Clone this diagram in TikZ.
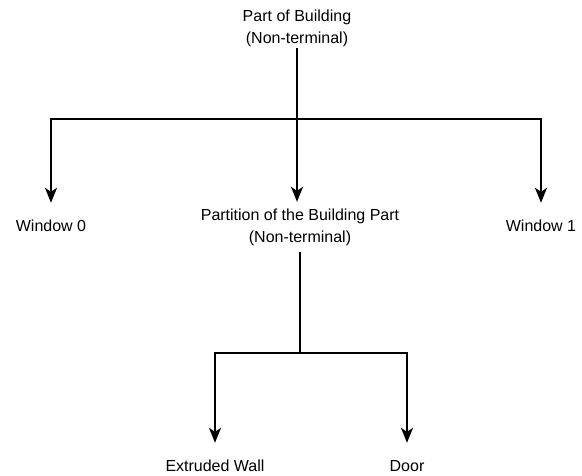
\documentclass[tikz,border=0pt]{standalone}
\usepackage{fontspec}
\setmainfont{Liberation Sans}
\usepackage{tikz}
\usetikzlibrary{positioning,calc}
\usetikzlibrary{arrows.meta}
\definecolor{LineBlack}{RGB}{0,0,0}
\tikzset{
	part/.style={font=\fontsize{16}{22}\selectfont,align=center,inner sep=0pt,minimum height=46pt},
	link/.style={draw=LineBlack,line width=1.6pt},
	arr/.style={link,-{Stealth[length=15pt,width=12pt,inset=4pt]}},
}
\begin{document}
\begin{tikzpicture}[x=1pt,y=-1pt]
	\useasboundingbox (0,0) rectangle (582,475);
	% tree nodes
	\node[part,minimum height=40pt] (top) at (297,28) {Part of Building\\(Non-terminal)};
	\node[part,minimum height=50pt] (mid) at (300,227) {Partition of the Building Part\\(Non-terminal)};
	\node[part] (w0) at (51,226) {Window 0};
	\node[part] (w1) at (541,226) {Window 1};
	\node[part] (wall) at (215,466) {Extruded Wall};
	\node[part] (door) at (407,466) {Door};
	% branch points
	\coordinate (j1) at (297,119);
	\coordinate (j2) at (300,353);
	\draw[arr] (top.south) -- (top.south |- mid.north);
	\draw[arr] (j1) -| (w0.north);
	\draw[arr] (j1) -| (w1.north);
	\draw[link] (mid.south) -- (j2);
	\draw[arr] (j2) -| (wall.north);
	\draw[arr] (j2) -| (door.north);
\end{tikzpicture}
\end{document}
